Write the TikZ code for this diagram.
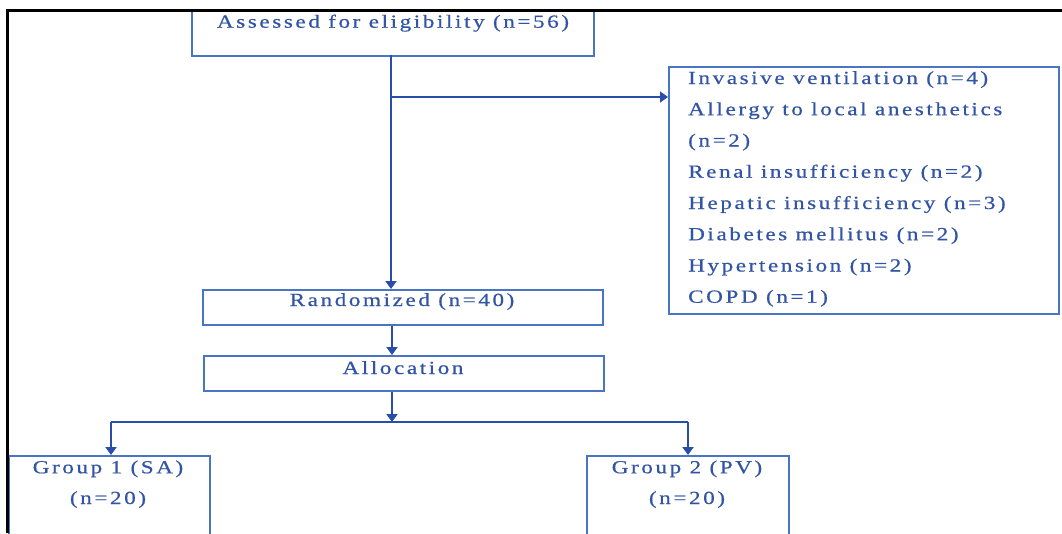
\documentclass[tikz,border=0pt]{standalone}
\usepackage{fontspec}
\setmainfont{Liberation Serif}[FakeStretch=1.25,LetterSpace=14,FakeBold=0.6]
\usetikzlibrary{arrows.meta}
\definecolor{boxblue}{RGB}{74,116,196}
\definecolor{txtblue}{RGB}{50,84,164}
\definecolor{arrblue}{RGB}{40,78,170}
\tikzset{
  box/.style={draw=boxblue, line width=1.6pt},
  lbl/.style={text=txtblue, font=\fontsize{18.5}{21}\selectfont, inner sep=0pt},
  conn/.style={draw=arrblue, line width=1.4pt},
  mainconn/.style={draw=arrblue, line width=2.6pt},
  tip/.style={-{Triangle[width=11pt,length=8pt]}},
}
\begin{document}
\begin{tikzpicture}[x=1pt,y=-1pt]
\useasboundingbox (0,0) rectangle (1062,533);
\begin{scope}
\clip (0,0) rectangle (1062,533);
% boxes
\node[box, minimum width=402pt, minimum height=46pt, anchor=north west, inner sep=0pt] (assess) at (191,9) {};
\node[box, minimum width=390pt, minimum height=247pt, anchor=north west, inner sep=0pt, line width=2pt] (excl) at (668,66) {};
\node[box, minimum width=400pt, minimum height=35pt, anchor=north west, inner sep=0pt] (rand) at (202,289) {};
\node[box, minimum width=400pt, minimum height=35pt, anchor=north west, inner sep=0pt] (alloc) at (203,355) {};
\node[box, minimum width=201pt, minimum height=100pt, anchor=north west, inner sep=0pt] (g1) at (8,455) {};
\node[box, minimum width=202pt, minimum height=100pt, anchor=north west, inner sep=0pt] (g2) at (586,455) {};
% texts
\node[lbl, anchor=base] (tassess) at (393,27.7) {Assessed for eligibility (n=56)};
\node[lbl, anchor=base] (trand) at (402,306) {Randomized (n=40)};
\node[lbl, anchor=base] (talloc) at (403,374) {Allocation};
\node[lbl, anchor=base] (tg1a) at (108,473.3) {Group 1 (SA)};
\node[lbl, anchor=base] (tg1b) at (108,504) {(n=20)};
\node[lbl, anchor=base] (tg2a) at (687,473.3) {Group 2 (PV)};
\node[lbl, anchor=base] (tg2b) at (687,504) {(n=20)};
\node[lbl, anchor=base west] (e1) at (688,84) {Invasive ventilation (n=4)};
\node[lbl, anchor=base west] (e2) at (688,115.2) {Allergy to local anesthetics};
\node[lbl, anchor=base west] (e3) at (688,146.5) {(n=2)};
\node[lbl, anchor=base west] (e4) at (688,177.7) {Renal insufficiency (n=2)};
\node[lbl, anchor=base west] (e5) at (688,209) {Hepatic insufficiency (n=3)};
\node[lbl, anchor=base west] (e6) at (688,240.2) {Diabetes mellitus (n=2)};
\node[lbl, anchor=base west] (e7) at (688,271.5) {Hypertension (n=2)};
\node[lbl, anchor=base west] (e8) at (688,302.7) {COPD (n=1)};
% connectors
\coordinate (a1) at (391,55);
\coordinate (br) at (391,97);
\coordinate (split) at (392,422);
\coordinate (s1) at (111,422);
\coordinate (s2) at (688,422);
\draw[mainconn, tip] (a1) -- (a1 |- rand.north);
\draw[conn, tip] (br) -- (br -| excl.west);
\draw[mainconn, tip] (rand.south -| split) -- (alloc.north -| split);
\draw[mainconn, tip] (alloc.south -| split) -- (split);
\draw[conn] (s1) -- (s2);
\draw[mainconn, tip] (s1) -- (s1 |- g1.north);
\draw[mainconn, tip] (s2) -- (s2 |- g2.north);
% frame
\draw[black, line width=3pt] (7,533) -- (7,10) -- (1062,10);
\end{scope}
\end{tikzpicture}
\end{document}
